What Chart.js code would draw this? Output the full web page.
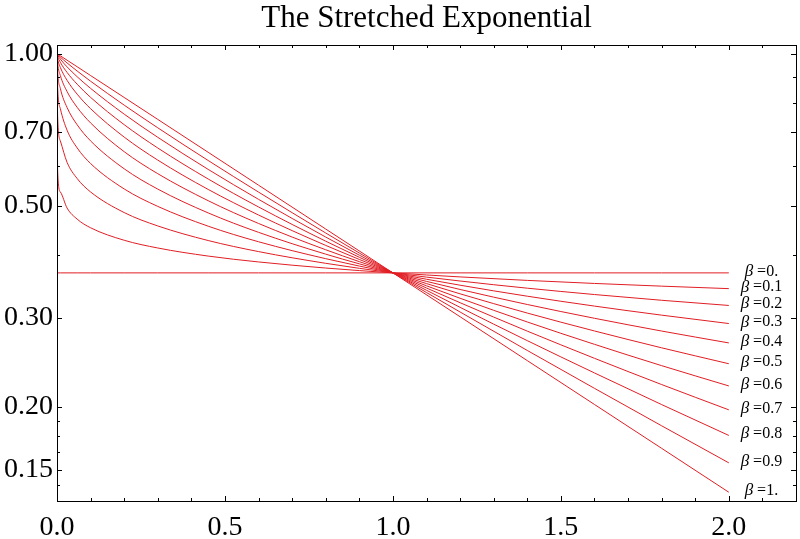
<!DOCTYPE html>
<html>
<head>
<meta charset="utf-8">
<script src="https://cdn.jsdelivr.net/npm/chart.js@4.4.1/dist/chart.umd.min.js"></script>
<style>
  html, body { margin: 0; padding: 0; background: #fff; }
  #wrap { width: 800px; height: 539px; }
</style>
</head>
<body>
<div id="wrap"><canvas id="stretchedChart"></canvas></div>
<script>
// sample positions along x
const xs = [0, 0.002, 0.01, 0.03, 0.06, 0.1, 0.2, 0.3, 0.45, 0.6, 0.8, 1.0, 1.2, 1.4, 1.6, 1.8, 2.0];

// values, one array per beta
const beta00 = [0.3679, 0.3679, 0.3679, 0.3679, 0.3679, 0.3679, 0.3679, 0.3679, 0.3679, 0.3679, 0.3679, 0.3679, 0.3679, 0.3679, 0.3679, 0.3679, 0.3679];
const beta01 = [1, 0.5844, 0.5321, 0.4945, 0.4701, 0.4519, 0.4269, 0.4121, 0.3972, 0.3867, 0.3761, 0.3679, 0.3612, 0.3555, 0.3506, 0.3463, 0.3424];
const beta02 = [1, 0.7494, 0.6716, 0.6090, 0.5657, 0.5321, 0.4844, 0.4557, 0.4264, 0.4054, 0.3843, 0.3679, 0.3545, 0.3431, 0.3333, 0.3247, 0.3171];
const beta03 = [1, 0.8564, 0.7779, 0.7052, 0.6505, 0.6058, 0.5395, 0.4982, 0.4552, 0.4240, 0.3925, 0.3679, 0.3478, 0.3308, 0.3162, 0.3034, 0.2920];
const beta04 = [1, 0.9201, 0.8534, 0.7820, 0.7229, 0.6716, 0.5914, 0.5391, 0.4836, 0.4426, 0.4007, 0.3679, 0.3411, 0.3185, 0.2991, 0.2822, 0.2673];
const beta05 = [1, 0.9563, 0.9048, 0.8410, 0.7827, 0.7289, 0.6394, 0.5783, 0.5113, 0.4609, 0.4088, 0.3679, 0.3344, 0.3063, 0.2823, 0.2614, 0.2431];
const beta06 = [1, 0.9763, 0.9388, 0.8852, 0.8312, 0.7779, 0.6834, 0.6153, 0.5383, 0.4790, 0.4170, 0.3679, 0.3277, 0.2941, 0.2656, 0.2410, 0.2197];
const beta07 = [1, 0.9872, 0.9610, 0.9177, 0.8698, 0.8191, 0.7232, 0.6502, 0.5645, 0.4969, 0.4251, 0.3679, 0.3211, 0.2821, 0.2492, 0.2211, 0.1970];
const beta08 = [1, 0.9931, 0.9752, 0.9413, 0.9000, 0.8534, 0.7588, 0.6827, 0.5898, 0.5145, 0.4332, 0.3679, 0.3144, 0.2701, 0.2331, 0.2018, 0.1753];
const beta09 = [1, 0.9963, 0.9843, 0.9583, 0.9236, 0.8817, 0.7906, 0.7129, 0.6142, 0.5318, 0.4413, 0.3679, 0.3078, 0.2583, 0.2173, 0.1832, 0.1547];
const beta10 = [1, 0.9980, 0.9900, 0.9704, 0.9418, 0.9048, 0.8187, 0.7408, 0.6376, 0.5488, 0.4493, 0.3679, 0.3012, 0.2466, 0.2019, 0.1653, 0.1353];

const betaLabels = ["0.", "0.1", "0.2", "0.3", "0.4", "0.5", "0.6", "0.7", "0.8", "0.9", "1."];
const series = [beta00, beta01, beta02, beta03, beta04, beta05, beta06, beta07, beta08, beta09, beta10];

// ticks
const xMajorTicks = [0, 0.5, 1.0, 1.5, 2.0];
const xMinorTicks = [0.1, 0.2, 0.3, 0.4, 0.6, 0.7, 0.8, 0.9, 1.1, 1.2, 1.3, 1.4, 1.6, 1.7, 1.8, 1.9, 2.1];
const yMajorTicks = [0.15, 0.20, 0.30, 0.50, 0.70, 1.00];
const yMinorTicks = [0.14, 0.1625, 0.175, 0.1875, 0.4, 0.6, 0.8, 0.9];

const titleText = "The Stretched Exponential";
const lineColor = "rgb(224, 30, 36)";
const serif = "'Liberation Serif', 'Times New Roman', serif";

const framePlugin = {
  id: "frame",
  afterDraw(chart) {
    const ctx = chart.ctx;
    const { left, right, top, bottom } = chart.chartArea;
    const x = chart.scales.x;
    const y = chart.scales.y;
    ctx.save();

    // title, centred over the plot frame
    ctx.fillStyle = "#000";
    ctx.font = "31px " + serif;
    ctx.textAlign = "center";
    ctx.textBaseline = "alphabetic";
    ctx.fillText(titleText, (left + right) / 2, 27);
    ctx.textAlign = "left";

    ctx.strokeStyle = "#000";
    ctx.lineWidth = 1;
    ctx.strokeRect(Math.round(left) + 0.5, Math.round(top) + 0.5, Math.round(right - left), Math.round(bottom - top));

    function xTick(v, len) {
      const p = Math.round(x.getPixelForValue(v)) + 0.5;
      ctx.beginPath();
      ctx.moveTo(p, bottom); ctx.lineTo(p, bottom - len);
      ctx.moveTo(p, top); ctx.lineTo(p, top + len);
      ctx.stroke();
    }
    function yTick(v, len) {
      const p = Math.round(y.getPixelForValue(v)) + 0.5;
      ctx.beginPath();
      ctx.moveTo(left, p); ctx.lineTo(left + len, p);
      ctx.moveTo(right, p); ctx.lineTo(right - len, p);
      ctx.stroke();
    }
    xMajorTicks.forEach(v => xTick(v, 5));
    xMinorTicks.forEach(v => xTick(v, 3));
    yMajorTicks.forEach(v => yTick(v, 5));
    yMinorTicks.forEach(v => yTick(v, 3));

    // curve labels at the right end
    ctx.textBaseline = "middle";
    series.forEach((s, i) => {
      const cx = x.getPixelForValue(2.097);
      const cy = y.getPixelForValue(s[s.length - 1]) - 1.5;
      ctx.font = "italic 17px " + serif;
      const wb = ctx.measureText("\u03b2").width;
      ctx.font = "16px " + serif;
      const rest = " =" + betaLabels[i];
      const wr = ctx.measureText(rest).width;
      const x0 = cx - (wb + wr) / 2;
      ctx.font = "italic 17px " + serif;
      ctx.fillText("\u03b2", x0, cy);
      ctx.font = "16px " + serif;
      ctx.fillText(rest, x0 + wb, cy);
    });
    ctx.restore();
  }
};

const ctx = document.getElementById("stretchedChart").getContext("2d");
new Chart(ctx, {
  type: "line",
  data: {
    datasets: series.map((s, i) => ({
      label: "\u03b2 =" + betaLabels[i],
      data: xs.map((v, j) => ({ x: v, y: s[j] })),
      borderColor: lineColor,
      borderWidth: 1,
      pointRadius: 0,
      cubicInterpolationMode: "monotone",
      fill: false,
    })),
  },
  options: {
    responsive: true,
    maintainAspectRatio: false,
    animation: false,
    layout: { padding: { top: 45, right: 4, bottom: 0, left: 0 } },
    plugins: {
      legend: { display: false },
      tooltip: { enabled: false },
      title: { display: false },
    },
    scales: {
      x: {
        type: "linear",
        min: 0,
        max: 2.2,
        grid: { display: false, drawTicks: false },
        border: { display: false },
        afterBuildTicks(scale) {
          scale.ticks = xMajorTicks.map(v => ({ value: v }));
        },
        afterFit(scale) { scale.height = 38; },
        ticks: {
          color: "#000",
          padding: 10,
          maxRotation: 0,
          font: { family: serif, size: 28 },
          callback: v => Number(v).toFixed(1),
        },
      },
      y: {
        type: "logarithmic",
        min: 0.130,
        max: 1.04,
        grid: { display: false, drawTicks: false },
        border: { display: false },
        afterBuildTicks(scale) {
          scale.ticks = yMajorTicks.map(v => ({ value: v }));
        },
        afterFit(scale) { scale.width = 57; },
        ticks: {
          color: "#000",
          padding: 4,
          font: { family: serif, size: 28 },
          callback: v => Number(v).toFixed(2),
        },
      },
    },
  },
  plugins: [framePlugin],
});
</script>
</body>
</html>
